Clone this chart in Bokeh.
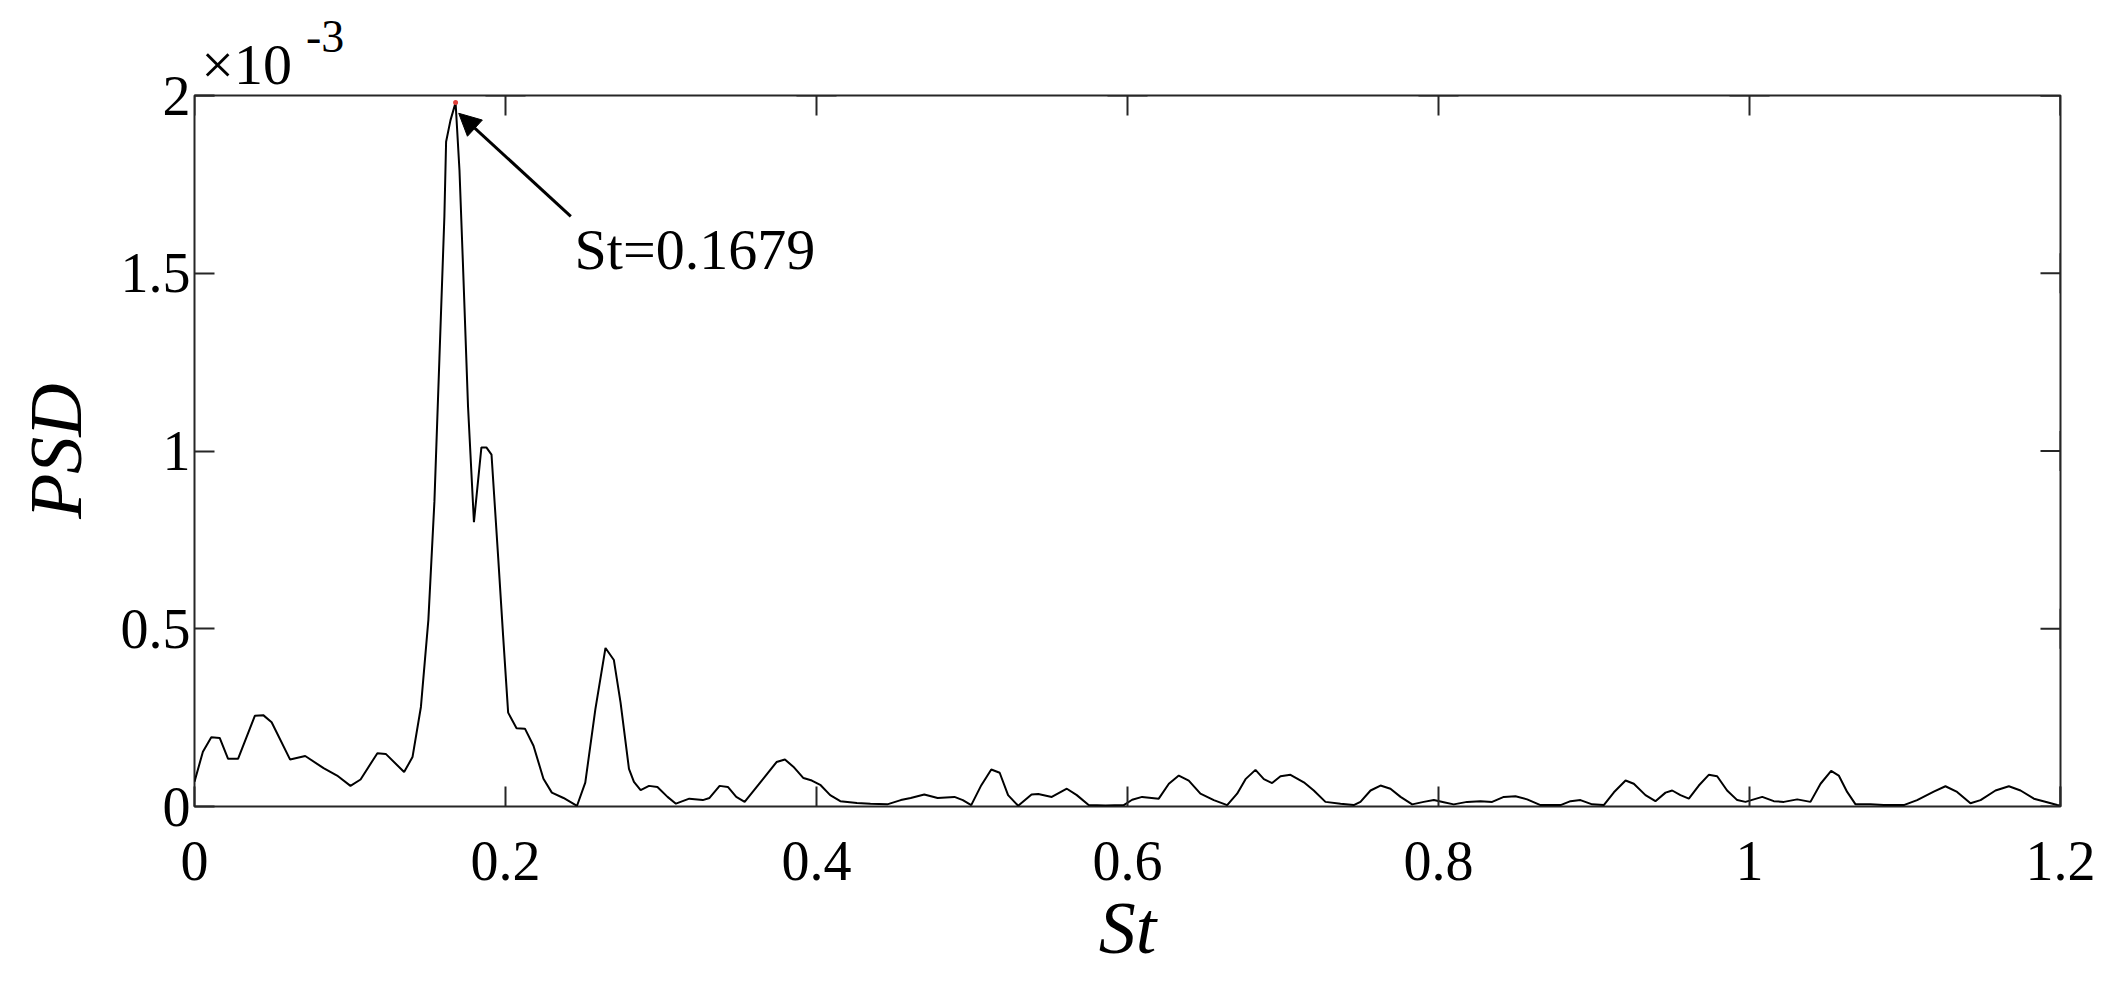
from bokeh.plotting import figure
from bokeh.models import (Range1d, FixedTicker, Label, Arrow, NormalHead, LinearAxis)
from bokeh.embed import file_html
from bokeh.resources import INLINE

# ---- data (PSD in units of 1e-3) ----
st = [0.000, 0.0054, 0.0108, 0.0162, 0.0216, 0.028, 0.0388, 0.0442, 0.0496, 0.0615,
      0.0712, 0.083, 0.0917, 0.1003, 0.1068, 0.1176, 0.123, 0.1348, 0.1402, 0.1456,
      0.1504, 0.1543, 0.1575, 0.1607, 0.1618, 0.1646, 0.1679, 0.1704, 0.1726, 0.1759,
      0.1797, 0.1845, 0.1877, 0.191, 0.1953, 0.1985, 0.2017, 0.2071, 0.2125, 0.218,
      0.2244, 0.2298, 0.2373, 0.246, 0.2513, 0.2578, 0.2643, 0.2697, 0.274, 0.2794,
      0.2826, 0.2869, 0.2923, 0.2977, 0.3042, 0.3096, 0.3182, 0.3269, 0.3312, 0.3377,
      0.343, 0.3484, 0.3538, 0.3657, 0.3743, 0.3797, 0.3851, 0.3916, 0.397, 0.4024,
      0.4088, 0.4153, 0.426, 0.4347, 0.4455, 0.4542, 0.4606, 0.4693, 0.4779, 0.4887,
      0.4941, 0.4995, 0.506, 0.5124, 0.5178, 0.5232, 0.5297, 0.5383, 0.5426, 0.5513,
      0.561, 0.5674, 0.575, 0.5858, 0.5976, 0.603, 0.6094, 0.6201, 0.6266, 0.633,
      0.6394, 0.6469, 0.6555, 0.6641, 0.6705, 0.6759, 0.6823, 0.6877, 0.693, 0.6984,
      0.7048, 0.7134, 0.7198, 0.7273, 0.737, 0.7455, 0.7498, 0.7563, 0.7627, 0.7691,
      0.7756, 0.7831, 0.7905, 0.797, 0.8034, 0.8098, 0.8184, 0.827, 0.8345, 0.842,
      0.8495, 0.857, 0.8656, 0.8785, 0.8849, 0.8913, 0.8988, 0.9063, 0.9128, 0.9203,
      0.9256, 0.9331, 0.9395, 0.946, 0.9503, 0.9556, 0.961, 0.9674, 0.9738, 0.9792,
      0.9856, 0.9921, 0.9974, 1.0082, 1.0156, 1.0221, 1.0307, 1.0392, 1.0457, 1.0525,
      1.0574, 1.0628, 1.0682, 1.0778, 1.0864, 1.0992, 1.1078, 1.1185, 1.126, 1.1335,
      1.1421, 1.1486, 1.1582, 1.1668, 1.1743, 1.1829, 1.1914, 1.1979, 1.2]
psd = [0.070, 0.154, 0.195, 0.193, 0.134, 0.134, 0.255, 0.257, 0.237, 0.132,
       0.142, 0.108, 0.087, 0.058, 0.076, 0.150, 0.148, 0.097, 0.139, 0.280,
       0.525, 0.859, 1.26, 1.66, 1.87, 1.93, 1.98, 1.79, 1.53, 1.125,
       0.80, 1.01, 1.01, 0.99, 0.70, 0.478, 0.264, 0.220, 0.219, 0.171,
       0.078, 0.039, 0.024, 0.002, 0.067, 0.274, 0.446, 0.412, 0.292, 0.106,
       0.069, 0.046, 0.058, 0.055, 0.027, 0.008, 0.022, 0.018, 0.024, 0.058,
       0.055, 0.027, 0.013, 0.078, 0.125, 0.132, 0.112, 0.080, 0.073, 0.061,
       0.032, 0.015, 0.010, 0.008, 0.006, 0.018, 0.024, 0.034, 0.024, 0.027,
       0.018, 0.004, 0.060, 0.104, 0.095, 0.032, 0.002, 0.034, 0.035, 0.027,
       0.050, 0.032, 0.004, 0.003, 0.004, 0.019, 0.027, 0.022, 0.064, 0.087,
       0.073, 0.036, 0.018, 0.004, 0.036, 0.077, 0.103, 0.077, 0.066, 0.085,
       0.089, 0.068, 0.045, 0.013, 0.008, 0.004, 0.013, 0.045, 0.059, 0.050,
       0.027, 0.006, 0.013, 0.018, 0.012, 0.006, 0.013, 0.015, 0.013, 0.027,
       0.029, 0.020, 0.004, 0.004, 0.015, 0.018, 0.006, 0.004, 0.040, 0.073,
       0.064, 0.032, 0.015, 0.039, 0.045, 0.032, 0.022, 0.059, 0.089, 0.085,
       0.045, 0.018, 0.013, 0.027, 0.015, 0.013, 0.020, 0.013, 0.064, 0.100,
       0.087, 0.041, 0.006, 0.006, 0.004, 0.004, 0.018, 0.042, 0.057, 0.041,
       0.009, 0.018, 0.045, 0.057, 0.045, 0.022, 0.012, 0.004, 0.003]

x_ticks = [0, 0.2, 0.4, 0.6, 0.8, 1.0, 1.2]
x_tick_labels = ["0", "0.2", "0.4", "0.6", "0.8", "1", "1.2"]
y_ticks = [0, 0.5, 1.0, 1.5, 2.0]
y_tick_labels = ["0", "0.5", "1", "1.5", "2"]
x_min, x_max = 0, 1.2
y_min, y_max = 0, 2

exp_base_text, exp_base_at = "\u00d710", 0.0335   # St position of text centre
exp_sup_text, exp_sup_at = "-3", 0.084

peak_i = max(range(len(psd)), key=lambda i: psd[i])
peak_st, peak_val = st[peak_i], psd[peak_i]
peak_text = "St=0.1679"
arrow_tail = (0.242, 1.66)

FONT = "Liberation Serif"
AX = "#262626"

p = figure(width=2096, height=971, output_backend="svg", toolbar_location=None,
           title=None,
           x_range=Range1d(x_min, x_max), y_range=Range1d(y_min, y_max),
           min_border_left=194, min_border_right=36, min_border_top=95,
           min_border_bottom=153, background_fill_color="white",
           border_fill_color="white")
p.grid.visible = False
p.outline_line_color = AX
p.outline_line_width = 2

p.line(st, psd, line_color="black", line_width=2)
p.scatter([peak_st], [peak_val], size=5, color="#e0403a", line_color=None)

# mirrored inward ticks on top and right (outer half of each cross is clipped by the frame)
p.scatter(x_ticks, [y_max] * len(x_ticks), marker="cross", size=40,
          line_color=AX, line_width=2)
p.scatter([x_max] * len(y_ticks), y_ticks, marker="cross", size=40,
          line_color=AX, line_width=2)

for ax, ticks, labels in ((p.xaxis[0], x_ticks, x_tick_labels),
                          (p.yaxis[0], y_ticks, y_tick_labels)):
    ax.ticker = FixedTicker(ticks=ticks)
    ax.major_label_overrides = {t: l for t, l in zip(ticks, labels)}
    ax.axis_line_color = None
    ax.major_tick_in = 20
    ax.major_tick_out = 0
    ax.major_tick_line_color = AX
    ax.major_tick_line_width = 2
    ax.minor_tick_line_color = None
    ax.major_label_text_font = FONT
    ax.major_label_text_font_size = "56px"
    ax.major_label_text_color = "black"
    ax.axis_label_text_font = FONT
    ax.axis_label_text_font_style = "italic"
    ax.axis_label_text_color = "black"

p.xaxis[0].major_label_standoff = 35
p.yaxis[0].major_label_standoff = 4
p.xaxis[0].axis_label = "St"
p.xaxis[0].axis_label_text_font_size = "74px"
p.xaxis[0].axis_label_standoff = 4
p.yaxis[0].axis_label = "PSD"
p.yaxis[0].axis_label_text_font_size = "74px"
p.yaxis[0].axis_label_standoff = 21

# exponent "x10^-3" drawn as tick labels of two label-only top axes
def text_axis(at, txt, size, standoff):
    a = LinearAxis(ticker=FixedTicker(ticks=[at]), major_label_overrides={at: txt})
    a.axis_line_color = None
    a.major_tick_line_color = None
    a.minor_tick_line_color = None
    a.major_tick_in = 0
    a.major_tick_out = 0
    a.major_label_standoff = standoff
    a.major_label_text_font = FONT
    a.major_label_text_font_size = size
    a.major_label_text_color = "black"
    return a

p.add_layout(text_axis(exp_base_at, exp_base_text, "58px", -1), "above")
p.add_layout(text_axis(exp_sup_at, exp_sup_text, "46px", -23), "above")

# peak annotation
p.add_layout(Arrow(end=NormalHead(size=22, fill_color="black", line_color="black"),
                   x_start=arrow_tail[0], y_start=arrow_tail[1],
                   x_end=peak_st + 0.002, y_end=peak_val - 0.03,
                   line_color="black", line_width=3))
p.add_layout(Label(x=peak_st, y=peak_val, x_offset=119, y_offset=-147, text=peak_text,
                   text_font=FONT, text_font_size="58px", text_color="black",
                   text_baseline="alphabetic"))

open("out.html", "w").write(file_html(p, INLINE))
